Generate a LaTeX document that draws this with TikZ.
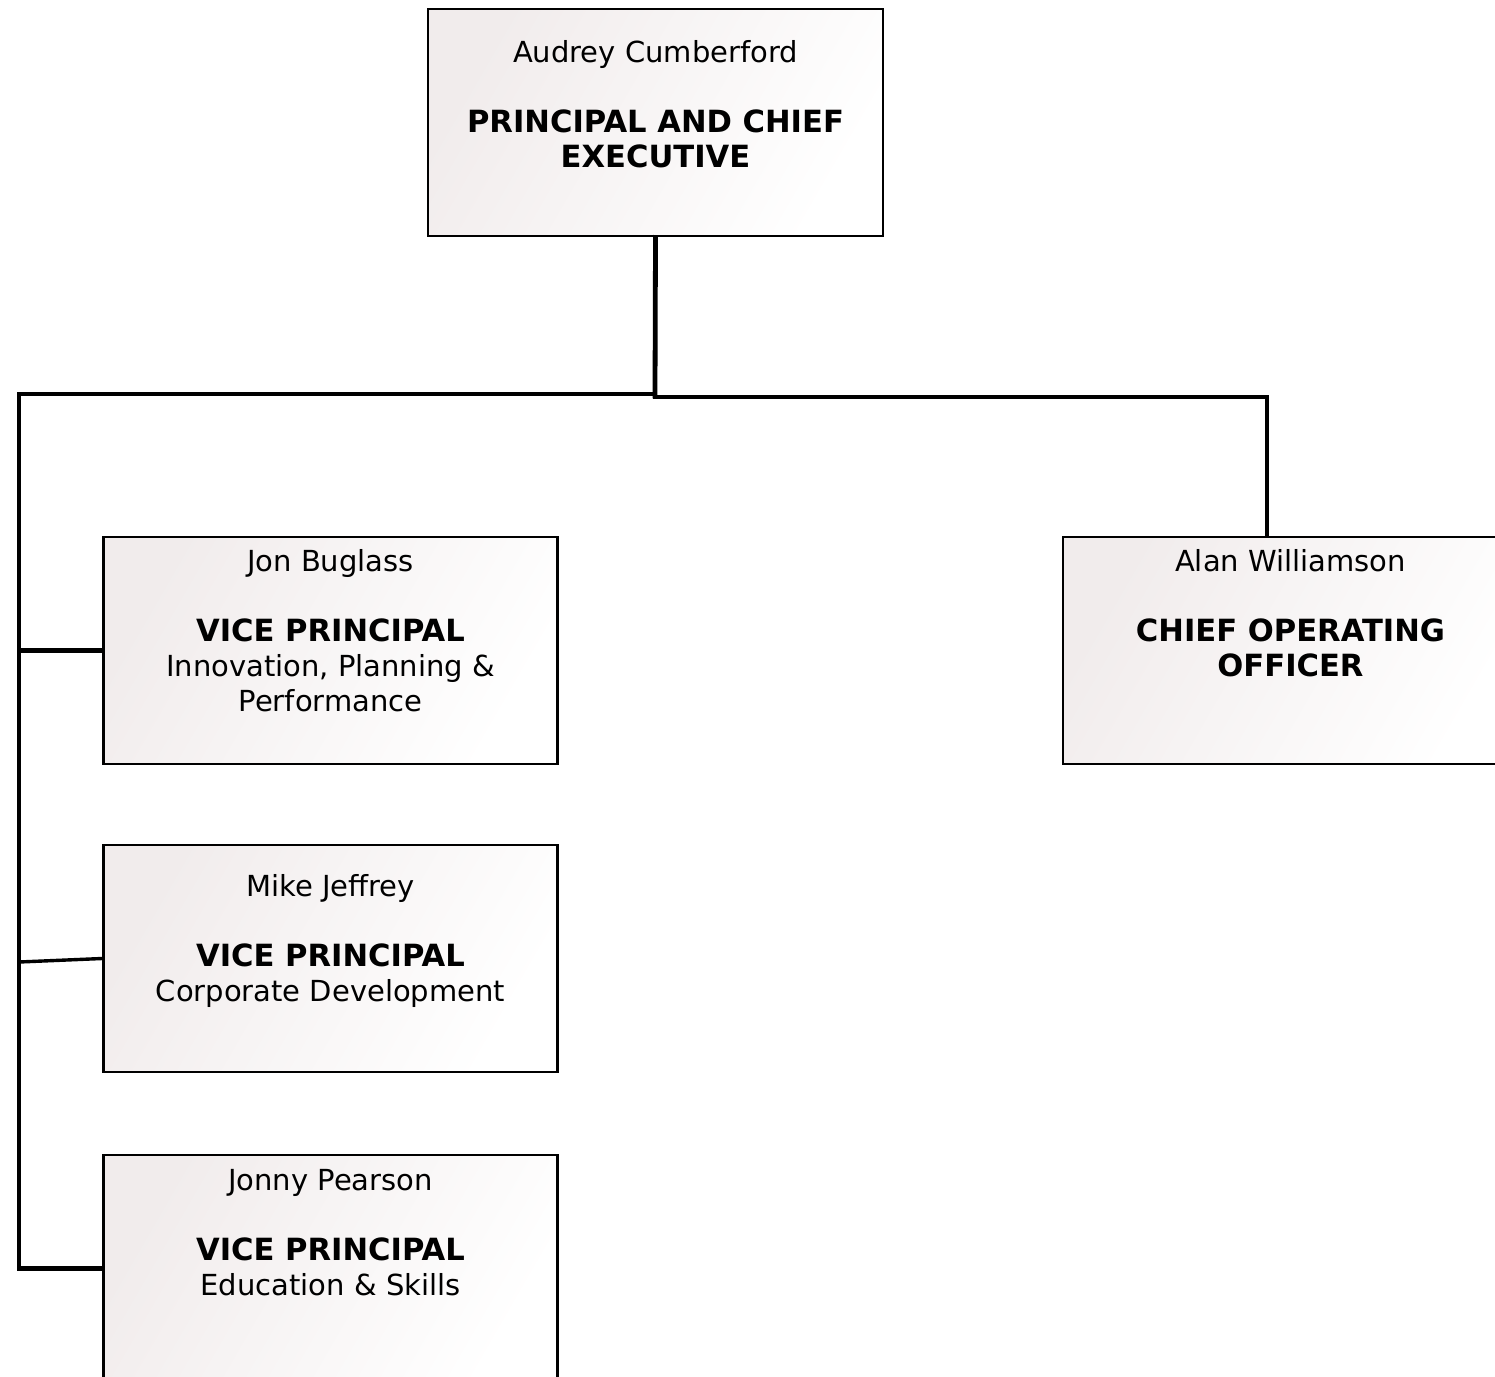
\documentclass[tikz,border=0pt]{standalone}
\usepackage{fontspec}
\setmainfont{DejaVu Sans}
\definecolor{boxshade}{RGB}{241,236,236}
\newcommand{\bt}[1]{{\bfseries\fontsize{15.3}{17.5}\selectfont #1}}
\begin{document}
\begin{tikzpicture}[x=0.5pt,y=-0.5pt,
  box/.style={draw=black, line width=1.4pt, rectangle, inner sep=0pt,
    minimum width=227pt, minimum height=113.5pt,
    top color=boxshade, bottom color=white, shading angle=60},
  conn/.style={line width=2.4pt, line join=miter, line cap=rect},
  thinconn/.style={line width=1.7pt},
  lbl/.style={align=center, anchor=north, inner sep=0pt, font=\fontsize{14.5}{17.5}\selectfont}]
\useasboundingbox (0,0) rectangle (1495,1377);
\clip (0,0) rectangle (1495,1377);
\fill[white] (0,0) rectangle (1495,1377);

% boxes
\node[box, minimum width=227.5pt] (top) at (655.5,122.5) {};
\node[box] (b1) at (330.5,650.5) {};
\node[box] (b2) at (330.5,958.5) {};
\node[box] (b3) at (330.5,1268.5) {};
\node[box, minimum width=227.5pt] (rb) at (1290.5,650.5) {};

% texts
\node[lbl] (ttop) at (655.5,40) {Audrey Cumberford\\[17.5pt]\bt{PRINCIPAL AND CHIEF}\\\bt{EXECUTIVE}};
\node[lbl] (tb1) at (330.5,549) {Jon Buglass\\[17.5pt]\bt{VICE PRINCIPAL}\\Innovation, Planning \&\\Performance};
\node[lbl] (tb2) at (330.5,874) {Mike Jeffrey\\[17.5pt]\bt{VICE PRINCIPAL}\\Corporate Development};
\node[lbl] (tb3) at (330.5,1169) {Jonny Pearson\\[17.5pt]\bt{VICE PRINCIPAL}\\Education \& Skills};
\node[lbl] (trb) at (1290.5,549) {Alan Williamson\\[17.5pt]\bt{CHIEF OPERATING}\\\bt{OFFICER}};

% connectors
\coordinate (j) at (655,396);
\coordinate (lc) at (19,394);
\coordinate (rc) at (1267,397);
\coordinate (bl) at (19,1268.5);
\coordinate (m2) at (19,962);
\draw[conn] (top.south) -- (j);
\draw[conn] (j) -- (j |- rc) -- (rc) -- (rc |- rb.north);
\draw[conn] (j |- lc) -- (lc) -- (bl) -- (b3.west);
\draw[conn] (lc |- b1.west) -- (b1.west);
\draw[thinconn] (m2) -- (b2.west);
\end{tikzpicture}
\end{document}
